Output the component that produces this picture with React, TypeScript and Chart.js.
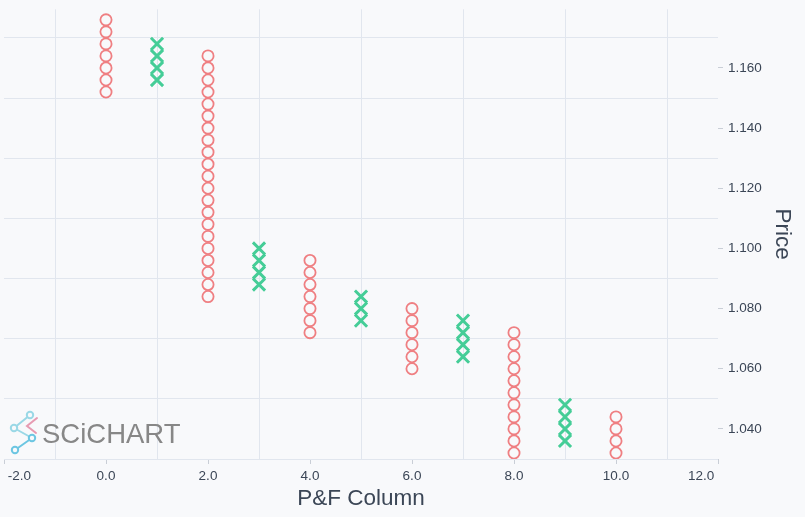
import {useEffect, useRef} from 'react'
import {Chart, registerables} from 'chart.js'
import type {ChartOptions} from 'chart.js'

Chart.register(...registerables)

// P&F columns: index, kind and the box prices
const columnIndex = [0, 1, 2, 3, 4, 5, 6, 7, 8, 9, 10]
const columnKind = ['O', 'X', 'O', 'X', 'O', 'X', 'O', 'X', 'O', 'X', 'O']

const column0 = [1.176, 1.172, 1.168, 1.164, 1.16, 1.156, 1.152]
const column1 = [1.156, 1.16, 1.164, 1.168]
const column2 = [
    1.164, 1.16, 1.156, 1.152, 1.148, 1.144, 1.14, 1.136, 1.132, 1.128, 1.124,
    1.12, 1.116, 1.112, 1.108, 1.104, 1.1, 1.096, 1.092, 1.088, 1.084,
]
const column3 = [1.088, 1.092, 1.096, 1.1]
const column4 = [1.096, 1.092, 1.088, 1.084, 1.08, 1.076, 1.072]
const column5 = [1.076, 1.08, 1.084]
const column6 = [1.08, 1.076, 1.072, 1.068, 1.064, 1.06]
const column7 = [1.064, 1.068, 1.072, 1.076]
const column8 = [1.072, 1.068, 1.064, 1.06, 1.056, 1.052, 1.048, 1.044, 1.04, 1.036, 1.032]
const column9 = [1.036, 1.04, 1.044, 1.048]
const column10 = [1.044, 1.04, 1.036, 1.032]

const columnBoxes = [column0, column1, column2, column3, column4, column5, column6, column7, column8, column9, column10]

// axis ticks (labelled) and grid lines (between labels)
const xLabelValues = [-2, 0, 2, 4, 6, 8, 10, 12]
const xGridValues = [-1, 1, 3, 5, 7, 9, 11]
const yLabelValues = [1.04, 1.06, 1.08, 1.1, 1.12, 1.14, 1.16]
const yGridValues = [1.03, 1.05, 1.07, 1.09, 1.11, 1.13, 1.15, 1.17]

const xMin = -2
const xMax = 12
const yMin = 1.03
const yMax = 1.1795

const FONT = '"Liberation Sans", Arial, sans-serif'
const textColor = '#3b4656'
const gridColor = '#e1e6ee'
const tickMarkColor = '#c9ced6'
const oColor = '#ef7f82'
const xColor = '#45cd97'

const same = (a: number, b: number) => Math.abs(a - b) < 1e-6
const inList = (list: number[], v: number | undefined) => v !== undefined && list.some((t) => same(t, v))

// edge labels sit a little inside the plot, like the original
function xLabel(v: number) {
    if (!inList(xLabelValues, v)) return ''
    const text = v.toFixed(1)
    if (same(v, xMin)) return ' ' + text
    if (same(v, xMax)) return text + ' '
    return text
}

function App() {
    const canvasRef = useRef<HTMLCanvasElement>(null)

    useEffect(() => {
        document.body.style.margin = '0'
        if (!canvasRef.current) return
        const ctx = canvasRef.current.getContext('2d')
        if (!ctx) return

        const oPoints: {x: number; y: number}[] = []
        const xPoints: {x: number; y: number}[] = []
        columnIndex.forEach((col, i) => {
            const target = columnKind[i] === 'O' ? oPoints : xPoints
            columnBoxes[i].forEach((price) => target.push({x: col, y: price}))
        })

        const options: ChartOptions<'scatter'> = {
            responsive: true,
            maintainAspectRatio: false,
            animation: false,
            layout: {autoPadding: false, padding: {left: 4, top: 9.3, right: 0, bottom: 0}},
            plugins: {legend: {display: false}, tooltip: {enabled: false}},
            scales: {
                x: {
                    type: 'linear',
                    position: 'bottom',
                    min: xMin,
                    max: xMax,
                    afterBuildTicks: (scale) => {
                        scale.ticks = [...xLabelValues, ...xGridValues].sort((a, b) => a - b).map((value) => ({value}))
                    },
                    afterFit: (scale) => {
                        scale.height = 58
                        scale.paddingLeft = 0
                        scale.paddingRight = 0
                    },
                    border: {display: false},
                    grid: {
                        color: (c) => (inList(xGridValues, c.tick?.value) ? gridColor : 'rgba(0,0,0,0)'),
                        tickColor: (c) => (inList(xLabelValues, c.tick?.value) ? tickMarkColor : 'rgba(0,0,0,0)'),
                        tickLength: 5,
                        lineWidth: 1,
                    },
                    ticks: {
                        autoSkip: false,
                        maxRotation: 0,
                        minRotation: 0,
                        align: 'inner',
                        padding: 4,
                        color: textColor,
                        font: {family: FONT, size: 13.5},
                        callback: (v) => xLabel(Number(v)),
                    },
                    title: {
                        display: true,
                        text: 'P&F Column',
                        color: textColor,
                        font: {family: FONT, size: 22.5},
                        padding: {top: 0, bottom: 5},
                    },
                },
                y: {
                    type: 'linear',
                    position: 'right',
                    min: yMin,
                    max: yMax,
                    afterBuildTicks: (scale) => {
                        scale.ticks = [...yLabelValues, ...yGridValues].sort((a, b) => a - b).map((value) => ({value}))
                    },
                    afterFit: (scale) => {
                        scale.width = 87
                        scale.paddingTop = 0
                        scale.paddingBottom = 0
                    },
                    border: {display: false},
                    grid: {
                        color: (c) => (inList(yGridValues, c.tick?.value) ? gridColor : 'rgba(0,0,0,0)'),
                        tickColor: (c) => (inList(yLabelValues, c.tick?.value) ? tickMarkColor : 'rgba(0,0,0,0)'),
                        tickLength: 5,
                        lineWidth: 1,
                    },
                    ticks: {
                        autoSkip: false,
                        padding: 5,
                        color: textColor,
                        font: {family: FONT, size: 13.5},
                        callback: (v) => (inList(yLabelValues, Number(v)) ? Number(v).toFixed(3) : ''),
                    },
                    title: {
                        display: true,
                        text: 'Price',
                        color: textColor,
                        font: {family: FONT, size: 22.5},
                        padding: {top: 9.5, bottom: 6.5},
                    },
                },
            },
        }

        const chart = new Chart(ctx, {
            type: 'scatter',
            data: {
                datasets: [
                    {
                        label: 'O',
                        data: oPoints,
                        pointStyle: 'circle',
                        pointRadius: 5.6,
                        borderWidth: 1.8,
                        borderColor: oColor,
                        backgroundColor: 'rgba(0,0,0,0)',
                    },
                    {
                        label: 'X',
                        data: xPoints,
                        pointStyle: 'crossRot',
                        pointRadius: 8.6,
                        borderWidth: 3,
                        borderColor: xColor,
                        backgroundColor: xColor,
                    },
                ],
            },
            options,
        })

        return () => chart.destroy()
    }, [])

    return (
        <div style={{position: 'relative', width: 805, height: 517, background: '#f8f9fb', overflow: 'hidden'}}>
            <canvas ref={canvasRef}/>
            <svg
                width={40}
                height={50}
                viewBox="0 0 40 50"
                style={{position: 'absolute', left: 5, top: 406}}
            >
                <g fill="none" strokeWidth={2} strokeLinecap="round">
                    <line x1={25} y1={9} x2={9} y2={22} stroke="#9ad8e6"/>
                    <line x1={9} y1={22} x2={27} y2={32} stroke="#9ad8e6"/>
                    <line x1={27} y1={32} x2={10} y2={44} stroke="#6cc6e2"/>
                    <polyline points="32,12 22,20 31,27" stroke="#e79bb2"/>
                    <circle cx={25} cy={9} r={3.2} stroke="#9ad8e6" fill="#f8f9fb"/>
                    <circle cx={9} cy={22} r={3.2} stroke="#9ad8e6" fill="#f8f9fb"/>
                    <circle cx={27} cy={32} r={3.2} stroke="#6cc6e2" fill="#f8f9fb"/>
                    <circle cx={10} cy={44} r={3.2} stroke="#6cc6e2" fill="#f8f9fb"/>
                </g>
            </svg>
            <div
                style={{
                    position: 'absolute',
                    left: 42,
                    top: 420,
                    fontFamily: FONT,
                    fontSize: 27.5,
                    lineHeight: '28px',
                    color: '#878787',
                    whiteSpace: 'nowrap',
                }}
            >
                SCiCHART
            </div>
        </div>
    )
}

export default App
